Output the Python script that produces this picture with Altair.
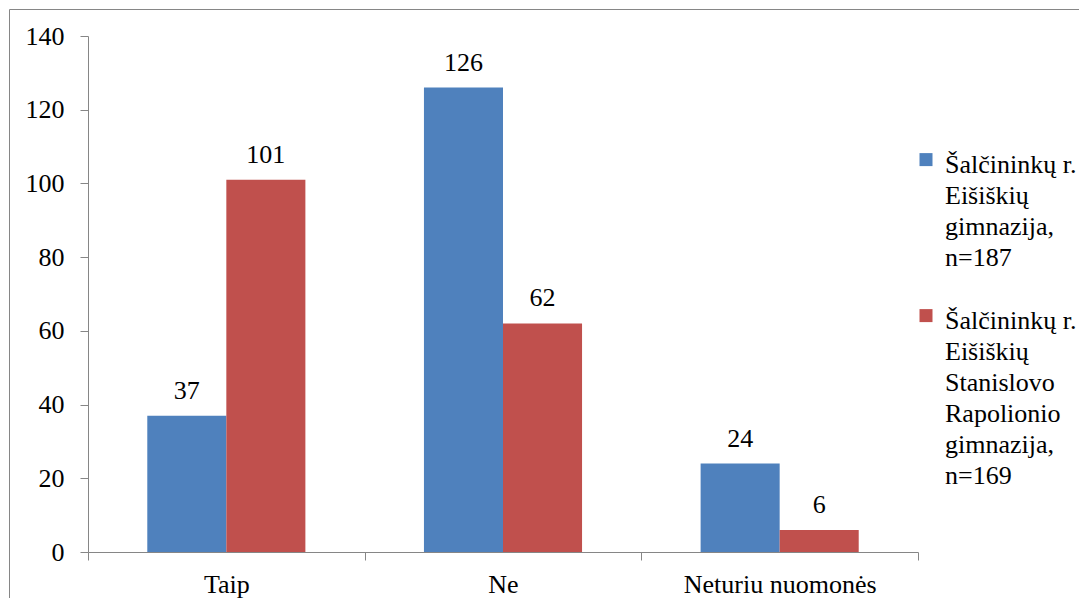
import altair as alt
import pandas as pd

categories = ["Taip", "Ne", "Neturiu nuomonės"]
series_names = [
    "Šalčininkų r.\nEišiškių\ngimnazija,\nn=187",
    "Šalčininkų r.\nEišiškių\nStanislovo\nRapolionio\ngimnazija,\nn=169",
]
values_s1 = [37, 126, 24]
values_s2 = [101, 62, 6]
series_colors = ["#4F81BD", "#C0504D"]
y_ticks = [0, 20, 40, 60, 80, 100, 120, 140]

rows = []
for cat, v1, v2 in zip(categories, values_s1, values_s2):
    rows.append({"category": cat, "series": series_names[0], "value": v1})
    rows.append({"category": cat, "series": series_names[1], "value": v2})
df = pd.DataFrame(rows)

FONT = "Liberation Serif, Tinos, Times New Roman, DejaVu Serif, serif"
AXIS_GRAY = "#868686"

x_enc = alt.X(
    "category:N", sort=categories, title=None,
    scale=alt.Scale(paddingInner=0, paddingOuter=0),
    axis=alt.Axis(labelAngle=0, tickBand="extent", labelFont=FONT, labelFontSize=26,
                  labelColor="black", labelPadding=11, labelBaseline="top", labelLimit=0,
                  domainColor=AXIS_GRAY, tickColor=AXIS_GRAY, tickSize=8, grid=False),
)
xoff = alt.XOffset("series:N", sort=series_names,
                   scale=alt.Scale(paddingInner=0, paddingOuter=0.75))
y_enc = alt.Y(
    "value:Q", title=None,
    scale=alt.Scale(domain=[0, 140], nice=False),
    axis=alt.Axis(values=y_ticks, labelFont=FONT, labelFontSize=26, labelColor="black",
                  labelPadding=16, domainColor=AXIS_GRAY, tickColor=AXIS_GRAY,
                  tickSize=8, grid=False),
)
color_enc = alt.Color(
    "series:N", sort=series_names,
    scale=alt.Scale(domain=series_names, range=series_colors),
    legend=alt.Legend(
        title=None, orient="none", legendX=825, legendY=103, padding=0,
        labelExpr="split(datum.label, '\\n')", labelBaseline="top",
        labelFont=FONT, labelFontSize=26, labelColor="black", labelLimit=0,
        labelOffset=6, symbolType="M-1,0.17H1V2.17H-1Z", symbolSize=169,
        symbolStrokeWidth=0, rowPadding=24,
    ),
)

base = alt.Chart(df)
bars = base.mark_bar().encode(x=x_enc, xOffset=xoff, y=y_enc, color=color_enc)
labels = base.mark_text(baseline="alphabetic", dy=-17, font=FONT, fontSize=26,
                        color="black").encode(
    x=x_enc, xOffset=xoff, y=y_enc, text="value:Q")

frame = alt.Chart(pd.DataFrame({"f": [0]})).mark_rect(
    fill="transparent", stroke=AXIS_GRAY, strokeWidth=1
).encode(x=alt.value(-78.5), y=alt.value(-26.5), x2=alt.value(1200), y2=alt.value(800))

chart = alt.layer(frame, bars, labels).properties(
    width=830, height=516,
    autosize=alt.AutoSizeParams(type="none"),
    padding={"left": 80, "top": 28, "right": 161, "bottom": 46},
).configure(
    font=FONT,
    style={"guide-label": {"lineHeight": 31, "font": FONT}},
).configure_view(stroke=None)

chart.save("out.html", embed_options={"renderer": "svg", "actions": False})
